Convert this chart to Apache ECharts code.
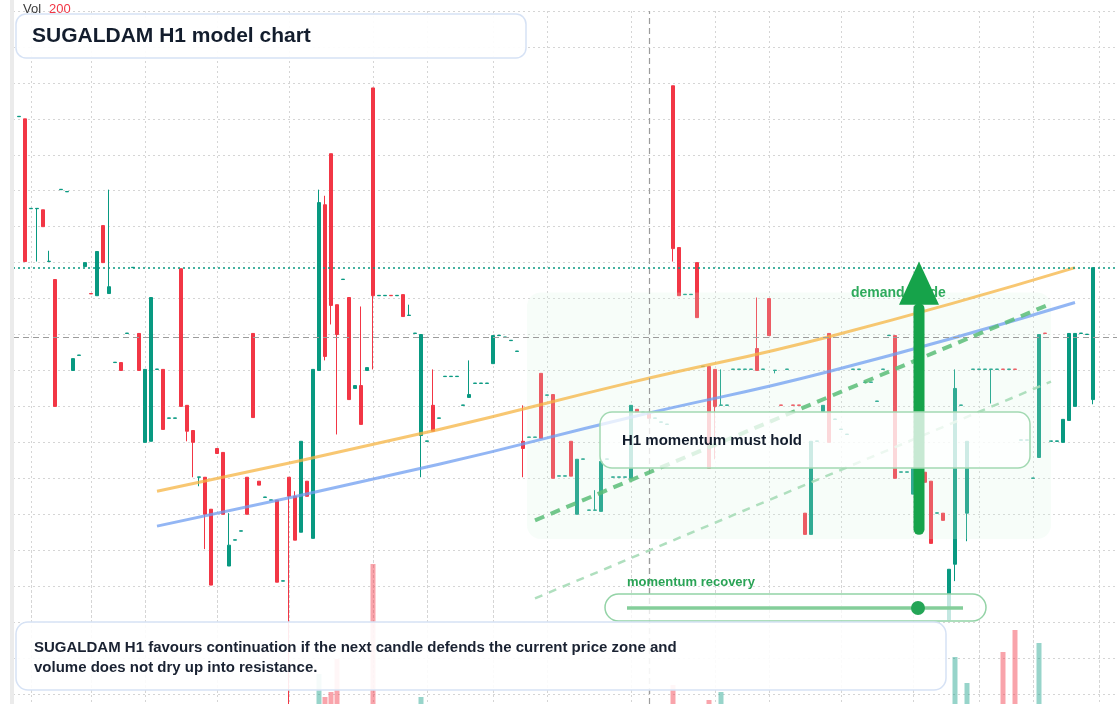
<!DOCTYPE html>
<html>
<head>
<meta charset="utf-8">
<title>SUGALDAM H1 model chart</title>
<script src="https://cdn.jsdelivr.net/npm/echarts@6/dist/echarts.min.js"></script>
<style>
  html, body { margin: 0; padding: 0; background: #fff; }
  #chart { width: 1120px; height: 704px; }
</style>
</head>
<body>
<div id="chart"></div>
<script>
// H1 candles: [open, close, low, high]
var ohlc = [
  [56.06, 56.07, 56.06, 56.07], [56.00, 52.03, 52.03, 56.00], [53.50, 53.51, 53.50, 53.51], [53.50, 53.51, 52.03, 53.51],
  [53.47, 53.00, 53.00, 53.47], [52.03, 52.04, 52.03, 52.33], [51.53, 48.00, 48.00, 51.53], [54.03, 54.04, 54.03, 54.04],
  [53.97, 53.98, 53.97, 53.98], [49.00, 49.33, 49.00, 49.33], [49.42, 49.43, 49.42, 49.43], [51.89, 52.00, 51.89, 52.00],
  [51.14, 51.13, 51.13, 51.14], [51.08, 52.31, 51.08, 52.31], [53.03, 52.00, 52.00, 53.03], [51.14, 51.33, 51.14, 54.03],
  [49.22, 49.23, 49.22, 49.23], [49.22, 49.00, 49.00, 49.22], [50.03, 50.04, 50.03, 50.04], [51.86, 51.87, 51.86, 51.87],
  [50.03, 49.00, 49.00, 50.03], [47.00, 49.03, 47.00, 49.03], [47.03, 51.03, 47.03, 51.03], [49.03, 49.04, 49.03, 49.04],
  [49.03, 47.36, 47.36, 49.03], [47.67, 47.68, 47.67, 47.68], [47.67, 47.68, 47.67, 47.68], [51.83, 48.00, 48.00, 51.83],
  [48.03, 47.31, 47.03, 48.03], [47.33, 47.00, 46.03, 47.33], [46.03, 46.04, 45.78, 46.04], [46.03, 45.00, 44.03, 46.03],
  [45.14, 43.03, 43.03, 45.14], [46.83, 46.69, 46.69, 46.83], [46.72, 45.00, 45.00, 46.72], [43.56, 44.14, 43.56, 45.03],
  [44.28, 44.29, 44.28, 44.29], [44.53, 44.54, 44.53, 44.54], [46.03, 45.00, 45.00, 46.03], [50.03, 47.69, 47.69, 50.03],
  [45.92, 45.81, 45.81, 45.92], [45.47, 45.48, 45.47, 45.48], [45.39, 45.40, 45.39, 45.40], [45.39, 43.11, 43.11, 45.39],
  [43.14, 43.15, 43.14, 43.15], [46.03, 45.50, 39.44, 46.03], [45.50, 44.28, 44.28, 45.64], [44.50, 47.03, 44.50, 47.03],
  [45.92, 45.50, 45.50, 45.92], [44.33, 49.03, 44.33, 49.03], [49.00, 53.67, 49.00, 54.03], [53.61, 49.39, 49.28, 53.86],
  [55.03, 50.81, 50.28, 55.03], [50.83, 50.00, 47.22, 50.83], [51.53, 51.54, 51.53, 51.54], [51.03, 48.19, 48.19, 51.03],
  [48.50, 48.58, 48.50, 48.58], [48.58, 47.50, 47.50, 50.78], [49.00, 49.08, 49.00, 49.08], [56.86, 51.08, 49.03, 56.86],
  [51.08, 51.09, 51.08, 51.09], [51.08, 51.09, 51.08, 51.09], [51.09, 51.08, 51.08, 51.09], [51.08, 51.09, 51.08, 51.09],
  [51.11, 50.50, 50.50, 51.11], [50.53, 50.54, 50.53, 50.83], [50.03, 50.04, 50.03, 50.04], [47.19, 50.00, 46.03, 50.00],
  [47.03, 47.04, 47.03, 47.04], [48.03, 47.31, 47.31, 49.03], [47.67, 47.68, 47.67, 47.68], [48.83, 48.84, 48.83, 48.84],
  [48.83, 48.84, 48.83, 48.84], [48.83, 48.84, 48.83, 48.84], [48.03, 48.04, 48.03, 48.04], [48.25, 48.33, 48.25, 49.28],
  [48.64, 48.65, 48.64, 48.65], [48.64, 48.65, 48.64, 48.65], [48.64, 48.65, 48.64, 48.65], [49.19, 49.97, 49.19, 49.97],
  [49.97, 49.98, 49.97, 49.98], [49.92, 49.93, 49.92, 49.93], [49.83, 49.84, 49.83, 49.84], [49.53, 49.54, 49.53, 49.54],
  [47.03, 46.83, 46.03, 48.03], [47.14, 47.15, 47.14, 47.15], [47.14, 47.15, 47.14, 47.15], [48.92, 47.11, 47.11, 48.92],
  [48.31, 48.32, 48.31, 48.32], [48.33, 46.00, 46.00, 48.33], [46.06, 46.07, 46.06, 46.07], [46.06, 46.07, 46.06, 46.07],
  [47.03, 46.06, 46.06, 47.03], [45.00, 46.53, 45.00, 46.53], [46.53, 46.54, 46.53, 46.54], [45.11, 45.12, 45.11, 45.12],
  [45.11, 45.12, 45.11, 45.67], [45.08, 46.47, 45.08, 46.47], [46.53, 46.54, 46.53, 46.54], [46.03, 46.04, 46.03, 46.04],
  [46.03, 46.04, 46.03, 46.04], [46.03, 46.04, 46.03, 46.04], [46.00, 48.03, 46.00, 48.03], [47.92, 47.83, 47.83, 47.92],
  [47.83, 47.84, 47.83, 47.84], [47.81, 47.67, 47.67, 47.81], [47.67, 47.68, 47.67, 47.68], [47.56, 47.57, 47.56, 47.57],
  [47.50, 47.51, 47.50, 47.51], [56.92, 52.39, 52.03, 56.92], [52.42, 51.08, 51.08, 52.42], [51.11, 51.12, 51.11, 51.12],
  [51.11, 51.12, 51.11, 51.12], [52.00, 50.47, 50.47, 52.00], [49.11, 49.12, 49.11, 49.12], [49.11, 46.28, 46.28, 49.11],
  [49.03, 48.00, 46.53, 49.03], [48.03, 48.04, 48.03, 49.03], [48.03, 48.04, 48.03, 48.04], [49.03, 49.04, 49.03, 49.04],
  [49.03, 49.04, 49.03, 49.04], [49.03, 49.04, 49.03, 49.04], [49.03, 49.04, 49.03, 49.04], [49.61, 49.00, 49.00, 51.03],
  [49.03, 49.04, 49.03, 49.04], [51.00, 49.97, 49.97, 51.00], [49.00, 49.01, 48.92, 49.01], [48.04, 48.03, 48.03, 48.04],
  [49.03, 49.04, 49.03, 49.04], [48.04, 48.03, 48.03, 48.04], [48.04, 48.03, 48.03, 48.04], [45.03, 44.44, 44.44, 45.03],
  [44.44, 47.03, 44.44, 47.03], [47.03, 47.04, 47.03, 47.04], [47.86, 48.03, 47.86, 48.03], [50.03, 47.00, 47.00, 50.03],
  [47.64, 47.65, 47.64, 47.65], [47.36, 47.37, 47.36, 47.37], [47.22, 47.23, 47.22, 47.23], [49.03, 49.04, 49.03, 49.04],
  [49.03, 49.04, 49.03, 49.04], [48.67, 48.68, 48.67, 48.68], [48.67, 48.68, 48.67, 48.68], [48.14, 48.15, 48.14, 48.15],
  [49.03, 49.04, 49.03, 49.04], [49.97, 49.98, 49.97, 49.98], [49.97, 46.00, 46.00, 49.97], [46.17, 46.18, 46.17, 46.18],
  [46.17, 46.18, 46.17, 46.18], [45.56, 46.28, 45.56, 46.28], [45.97, 45.98, 45.97, 45.98], [46.17, 45.89, 45.89, 46.17],
  [45.92, 44.19, 44.19, 45.92], [45.03, 45.04, 45.03, 45.04], [45.03, 44.83, 44.83, 45.03], [42.06, 43.47, 42.06, 43.47],
  [43.61, 48.50, 43.14, 49.03], [48.03, 48.04, 48.03, 48.04], [45.03, 47.03, 44.25, 47.03], [49.03, 49.04, 49.03, 49.04],
  [49.03, 49.04, 49.03, 49.04], [49.03, 49.04, 49.03, 49.04], [49.03, 49.04, 48.08, 49.04], [49.03, 49.04, 49.03, 49.04],
  [49.04, 49.03, 49.03, 49.04], [49.03, 49.04, 49.03, 49.04], [49.04, 49.03, 49.03, 49.04], [47.06, 47.07, 47.06, 47.07],
  [47.06, 47.07, 47.06, 47.07], [46.00, 46.01, 46.00, 46.01], [46.58, 50.00, 46.58, 50.00], [50.04, 50.03, 50.03, 50.04],
  [47.03, 47.04, 47.03, 47.04], [47.03, 47.04, 47.03, 47.04], [47.00, 47.64, 47.00, 47.64], [47.61, 50.03, 47.61, 50.03],
  [48.00, 50.03, 48.00, 50.03], [50.03, 50.04, 50.03, 50.04], [50.00, 50.01, 50.00, 50.01], [48.19, 51.86, 48.06, 51.86]
];

var volumes = [
  22, 38, 12, 18, 20, 14, 35, 16, 12, 18,
  10, 15, 12, 30, 24, 22, 10, 14, 12, 10,
  20, 28, 36, 10, 26, 12, 10, 34, 20, 18,
  14, 24, 32, 12, 26, 18, 10, 12, 22, 30,
  12, 10, 10, 34, 12, 28, 22, 36, 14, 40,
  76, 53, 58, 91, 12, 32, 10, 24, 10, 186,
  14, 10, 12, 10, 18, 14, 12, 53, 10, 20,
  10, 12, 10, 10, 12, 14, 10, 12, 10, 26,
  10, 10, 12, 10, 22, 10, 12, 28, 10, 32,
  10, 12, 26, 30, 10, 12, 14, 28, 10, 12,
  10, 12, 34, 14, 10, 16, 10, 12, 10, 65,
  30, 10, 12, 28, 12, 50, 22, 58, 10, 12,
  10, 12, 10, 24, 10, 26, 14, 10, 12, 10,
  10, 20, 36, 10, 14, 38, 12, 10, 12, 10,
  12, 10, 12, 14, 10, 12, 40, 10, 12, 18,
  14, 16, 34, 10, 16, 30, 93, 12, 67, 10,
  10, 12, 16, 10, 98, 12, 120, 10, 12, 14,
  107, 10, 12, 10, 22, 36, 34, 10, 12, 42
];

// candles that carry a vertical grid line (session marks)
var gridBars = [2, 12, 21, 33, 45, 59, 68, 79, 88, 102, 116, 125, 137, 149, 160, 169, 180];

// curved trend pair
var trendBars = [23, 70, 102, 135, 176];
var upperTrend = [45.64, 47.36, 48.67, 49.94, 51.86];
var lowerTrend = [44.67, 46.39, 47.70, 48.97, 50.89];

// dashed recovery channel
var channelBars = [86, 172];
var channelHigh = [44.83, 50.86];
var channelLow = [42.66, 48.69];

var crossBar = 105;
var crossPrice = 49.92;

var zoneBars = [85, 172];
var zonePrices = [51.17, 44.31];

var arrowBar = 150;
var arrowPrices = [44.58, 50.83, 52.03]; // tail, head base, tip

var priceMin = 40, priceMax = 59, priceStep = 1;
var volMin = 46, volMax = 200; // the volume pane is cut by the bottom edge

var UP = '#089981', DOWN = '#f23645';
var FONT = '"Liberation Sans", Arial, sans-serif';

// one empty slot before the first candle, a few after the last
var lead = 1, tail = 4;
var slots = lead + ohlc.length + tail;
var cats = [];
for (var k = 0; k < slots; k++) cats.push('b' + k);

var candleData = [], volData = [];
for (var k = 0; k < slots; k++) {
  var i = k - lead;
  if (i < 0 || i >= ohlc.length) {
    candleData.push(['-', '-', '-', '-']);
    volData.push('-');
    continue;
  }
  candleData.push(ohlc[i]);
  var up = ohlc[i][1] >= ohlc[i][0];
  volData.push({
    value: volumes[i],
    itemStyle: { color: up ? 'rgba(8,153,129,0.42)' : 'rgba(242,54,69,0.45)' }
  });
}

function trendSeriesData(vals) {
  var d = [];
  for (var k = 0; k < slots; k++) d.push(null);
  trendBars.forEach(function (b, j) { d[b + lead] = vals[j]; });
  return d;
}

var lastClose = ohlc[ohlc.length - 1][1];
var dotted = { color: '#d5d5d5', type: [2, 3], width: 1 };
var crossStyle = { color: '#9c9c9c', type: [6, 4], width: 1.2 };
var showGridBar = function (idx) { return gridBars.indexOf(idx - lead) !== -1; };

var chart = echarts.init(document.getElementById('chart'));

var option = {
  animation: false,
  backgroundColor: '#fff',
  grid: [
    { left: 13, right: 3, top: 11, bottom: 10 },
    { left: 13, right: 3, top: 550, bottom: 0 }
  ],
  xAxis: [
    {
      type: 'category', data: cats, boundaryGap: false,
      axisLine: { show: false }, axisTick: { show: false }, axisLabel: { show: false },
      splitLine: { show: true, interval: showGridBar, lineStyle: dotted }
    },
    {
      type: 'category', gridIndex: 1, data: cats, boundaryGap: false,
      axisLine: { show: false }, axisTick: { show: false }, axisLabel: { show: false },
      splitLine: { show: true, interval: showGridBar, lineStyle: dotted }
    }
  ],
  yAxis: [
    {
      type: 'value', min: priceMin, max: priceMax, interval: priceStep,
      axisLine: { show: false }, axisTick: { show: false }, axisLabel: { show: false },
      splitLine: { show: true, lineStyle: dotted }
    },
    {
      type: 'value', gridIndex: 1, min: volMin, max: volMax,
      axisLine: { show: false }, axisTick: { show: false }, axisLabel: { show: false },
      splitLine: { show: false }
    }
  ],
  series: [
    {
      name: 'Vol', type: 'bar', xAxisIndex: 1, yAxisIndex: 1,
      data: volData, barWidth: 5, silent: true, z: 1, clip: true,
      markLine: {
        silent: true, symbol: ['none', 'none'], label: { show: false },
        data: [{ xAxis: cats[crossBar + lead], lineStyle: crossStyle }]
      }
    },
    {
      name: 'SUGALDAM', type: 'candlestick', data: candleData,
      barWidth: 4, silent: true, z: 2, clip: false,
      itemStyle: {
        color: UP, color0: DOWN,
        borderColor: UP, borderColor0: DOWN, borderColorDoji: UP,
        borderWidth: 1
      },
      markLine: {
        silent: true, symbol: ['none', 'none'], label: { show: false },
        data: [
          { xAxis: cats[crossBar + lead], lineStyle: crossStyle },
          { yAxis: crossPrice, lineStyle: crossStyle },
          { yAxis: lastClose, lineStyle: { color: UP, type: [2, 3], width: 1.5 } }
        ]
      }
    },
    {
      name: 'upper trend', type: 'line', data: trendSeriesData(upperTrend),
      connectNulls: true, smooth: true, showSymbol: false, silent: true, z: 4,
      lineStyle: { color: '#f5b443', width: 3, opacity: 0.75 },
      markLine: {
        silent: true, symbol: ['none', 'none'], label: { show: false },
        data: [
          [
            { coord: [cats[channelBars[0] + lead], channelHigh[0]], lineStyle: { color: '#5bbd78', width: 4, type: [10, 7], opacity: 0.85 } },
            { coord: [cats[channelBars[1] + lead], channelHigh[1]] }
          ],
          [
            { coord: [cats[channelBars[0] + lead], channelLow[0]], lineStyle: { color: '#a6dcb7', width: 2.5, type: [8, 7], opacity: 0.9 } },
            { coord: [cats[channelBars[1] + lead], channelLow[1]] }
          ]
        ]
      }
    },
    {
      name: 'lower trend', type: 'line', data: trendSeriesData(lowerTrend),
      connectNulls: true, smooth: true, showSymbol: false, silent: true, z: 4,
      lineStyle: { color: '#6f9df0', width: 3, opacity: 0.75 }
    }
  ]
};

chart.setOption(option);

function px(bar, price) {
  return chart.convertToPixel({ gridIndex: 0 }, [bar + lead, price]);
}

var z0 = px(zoneBars[0], zonePrices[0]);
var z1 = px(zoneBars[1], zonePrices[1]);
var aTail = px(arrowBar, arrowPrices[0]);
var aNeck = px(arrowBar, arrowPrices[1]);
var aTip = px(arrowBar, arrowPrices[2]);

chart.setOption({
  graphic: [
    { type: 'rect', z: 20, shape: { x: 10, y: 0, width: 4, height: 704 }, style: { fill: '#ebebeb' } },
    {
      type: 'rect', z: 3,
      shape: { x: z0[0] - 2, y: z0[1], width: z1[0] - z0[0] + 2, height: z1[1] - z0[1], r: 14 },
      style: { fill: 'rgba(214,243,223,0.2)' }
    },
    { type: 'text', z: 5, style: { x: 851, y: 293, text: 'demand guide', fill: '#2eaa5c', font: 'bold 14px ' + FONT, verticalAlign: 'middle' } },
    {
      type: 'line', z: 6,
      shape: { x1: aTail[0], y1: aTail[1], x2: aNeck[0], y2: aNeck[1] + 4 },
      style: { stroke: '#16a34a', lineWidth: 11, lineCap: 'round' }
    },
    {
      type: 'polygon', z: 6,
      shape: { points: [[aTip[0], aTip[1]], [aNeck[0] - 20, aNeck[1]], [aNeck[0] + 20, aNeck[1]]] },
      style: { fill: '#16a34a' }
    },
    { type: 'text', z: 20, style: { x: 23, y: 9, text: 'Vol', fill: '#3a3a3a', font: '13px ' + FONT, verticalAlign: 'middle' } },
    { type: 'text', z: 20, style: { x: 49, y: 9, text: '200', fill: DOWN, font: '13px ' + FONT, verticalAlign: 'middle' } },
    {
      type: 'rect', z: 10, shape: { x: 16, y: 14, width: 510, height: 44, r: 10 },
      style: { fill: 'rgba(255,255,255,0.92)', stroke: '#d6e2f5', lineWidth: 1.5 }
    },
    { type: 'text', z: 11, style: { x: 32, y: 36, text: 'SUGALDAM H1 model chart', fill: '#131d2d', font: 'bold 21px ' + FONT, verticalAlign: 'middle' } },
    {
      type: 'rect', z: 10, shape: { x: 600, y: 412, width: 430, height: 56, r: 12 },
      style: { fill: 'rgba(255,255,255,0.76)', stroke: '#a2d9b2', lineWidth: 1.5 }
    },
    { type: 'text', z: 11, style: { x: 622, y: 441, text: 'H1 momentum must hold', fill: '#131d2d', font: 'bold 15px ' + FONT, verticalAlign: 'middle' } },
    { type: 'text', z: 11, style: { x: 627, y: 582, text: 'momentum recovery', fill: '#2aa356', font: 'bold 13px ' + FONT, verticalAlign: 'middle' } },
    {
      type: 'rect', z: 10, shape: { x: 605, y: 594, width: 381, height: 27, r: 13.5 },
      style: { fill: 'rgba(255,255,255,0.76)', stroke: '#93d3a6', lineWidth: 1.5 }
    },
    { type: 'line', z: 11, shape: { x1: 627, y1: 608, x2: 963, y2: 608 }, style: { stroke: '#84ce9a', lineWidth: 3.5 } },
    { type: 'circle', z: 12, shape: { cx: 918, cy: 608, r: 7 }, style: { fill: '#24a556' } },
    {
      type: 'rect', z: 10, shape: { x: 16, y: 622, width: 930, height: 68, r: 12 },
      style: { fill: 'rgba(255,255,255,0.9)', stroke: '#d6e2f5', lineWidth: 1.5 }
    },
    {
      type: 'text', z: 11,
      style: {
        x: 34, y: 648, fill: '#1a2232', font: 'bold 15px ' + FONT, verticalAlign: 'middle',
        text: 'SUGALDAM H1 favours continuation if the next candle defends the current price zone and'
      }
    },
    {
      type: 'text', z: 11,
      style: { x: 34, y: 668, fill: '#1a2232', font: 'bold 15px ' + FONT, verticalAlign: 'middle', text: 'volume does not dry up into resistance.' }
    }
  ]
});
</script>
</body>
</html>
